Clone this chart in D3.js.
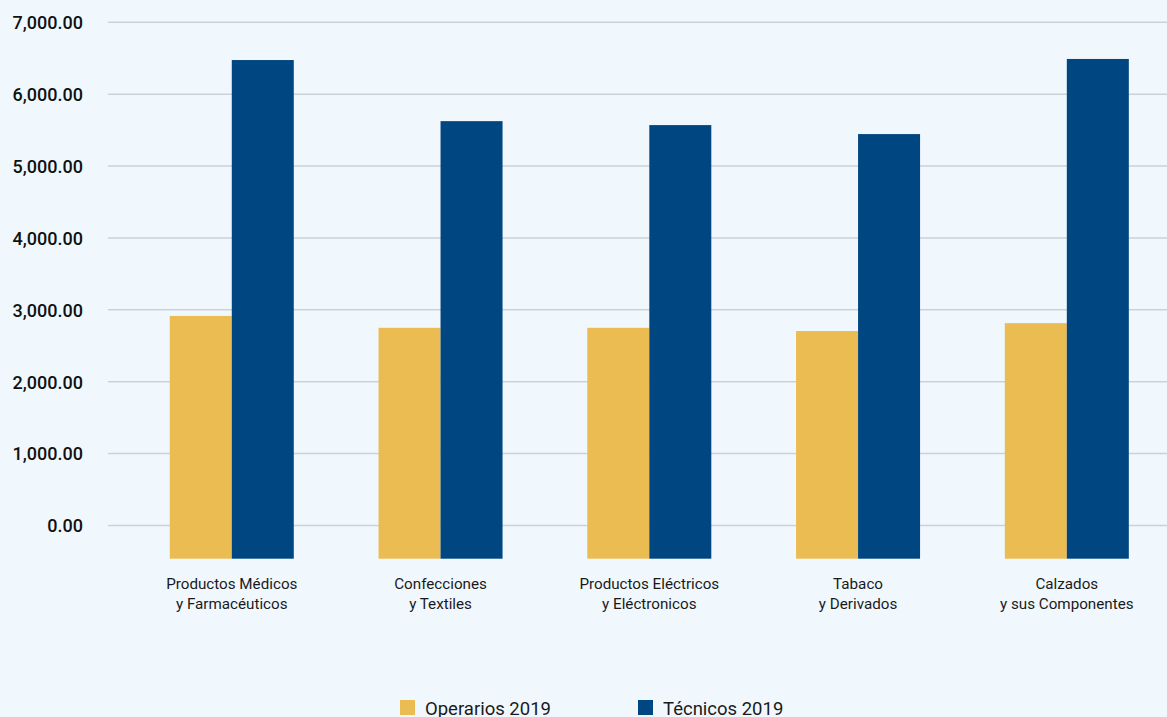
<!DOCTYPE html>
<html><head><meta charset="utf-8">
<script src="https://cdn.jsdelivr.net/npm/d3@7/dist/d3.min.js"></script>
<style>
html,body{margin:0;padding:0;background:#f0f8fe;}
svg{display:block;font-family:Roboto,"Noto Sans",sans-serif;}
</style></head>
<body>
<svg id="chart" width="1167" height="717"></svg>
<script>
const categories = [
  ["Productos Médicos","y Farmacéuticos"],
  ["Confecciones","y Textiles"],
  ["Productos Eléctricos","y Eléctronicos"],
  ["Tabaco","y Derivados"],
  ["Calzados","y sus Componentes"]
];
const seriesNames = ["Operarios 2019","Técnicos 2019"];
const operarios = [2915, 2750, 2750, 2705, 2815];
const tecnicos = [6475, 5625, 5570, 5445, 6490];
const yTicks = [0,1000,2000,3000,4000,5000,6000,7000];
const colors = ["#ebbc51","#004680"];

const svg = d3.select("#chart");
const y = d3.scaleLinear().domain([-462, 7000]).range([558.7, 22.3]);
const x = d3.scaleBand().domain(d3.range(categories.length)).range([127.4, 1171.2]).paddingInner(0.406).paddingOuter(0.203);
const xs = d3.scaleBand().domain([0,1]).range([0, x.bandwidth()]);

// grid
const yAxis = d3.axisLeft(y).tickValues(yTicks).tickSize(0).tickFormat(d3.format(",.2f"));
const ga = svg.append("g").attr("transform","translate(83,0)").call(yAxis);
ga.select(".domain").remove();
ga.selectAll("text").attr("x",0).attr("dy","0.35em").style("font-size","18px").style("font-weight","500").style("fill","#111").style("font-family","Roboto");
svg.append("g").selectAll("line").data(yTicks).join("line")
  .attr("x1",108).attr("x2",1167).attr("y1",d=>y(d)).attr("y2",d=>y(d))
  .attr("stroke","#cbd2d7").attr("stroke-width",1.5);

const data = [operarios, tecnicos];
const groups = svg.append("g").selectAll("g").data(categories).join("g")
  .attr("transform",(d,i)=>`translate(${x(i)},0)`);
groups.selectAll("rect").data((d,i)=>data.map((s,k)=>({k, v:s[i]}))).join("rect")
  .attr("x",d=>xs(d.k)).attr("width",xs.bandwidth())
  .attr("y",d=>y(d.v)).attr("height",d=>y(-462)-y(d.v))
  .attr("fill",d=>colors[d.k]);

// x labels
const xl = svg.append("g").selectAll("text").data(categories).join("text")
  .attr("x",(d,i)=>x(i)+x.bandwidth()/2).attr("y",589)
  .attr("text-anchor","middle").style("font-size","15.2px").style("fill","#1a1a1a");
xl.selectAll("tspan").data(d=>d).join("tspan")
  .attr("x",function(){return this.parentNode.getAttribute("x");})
  .attr("dy",(d,i)=>i===0?0:"20px").text(d=>d);

// legend
const legX = [400, 638];
const lg = svg.append("g").selectAll("g").data(seriesNames).join("g")
  .attr("transform",(d,i)=>`translate(${legX[i]},700)`);
lg.append("rect").attr("width",15).attr("height",15).attr("fill",(d,i)=>colors[i]);
lg.append("text").attr("x",25).attr("y",14.5).text(d=>d).style("font-size","18.5px").style("fill","#1a1a1a");
</script>
</body></html>
